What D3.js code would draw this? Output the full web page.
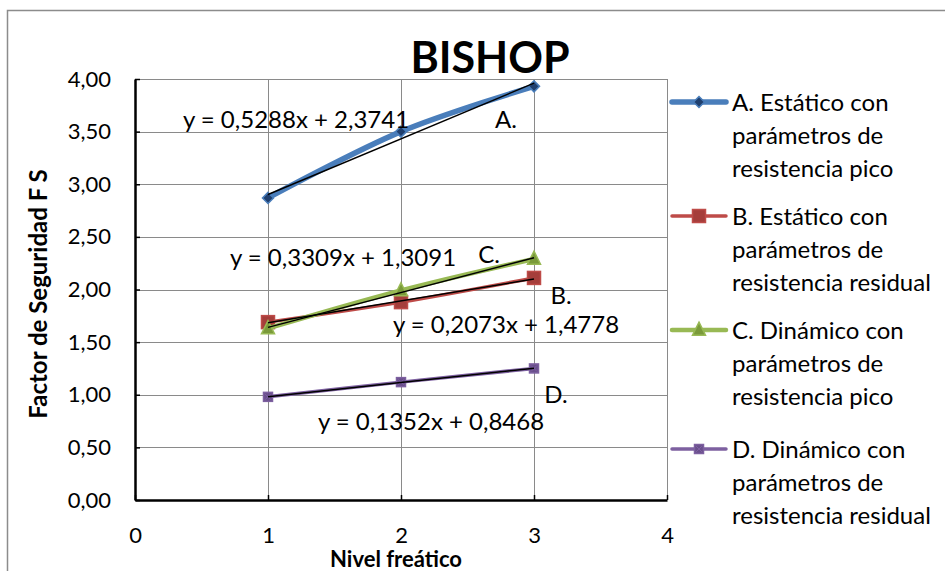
<!DOCTYPE html>
<html>
<head>
<meta charset="utf-8">
<script src="https://cdn.jsdelivr.net/npm/d3@7"></script>
<style>
  html, body { margin: 0; padding: 0; background: #fff; }
  svg { display: block; }
  text { font-family: Lato, "Open Sans", sans-serif; fill: #000; }
</style>
</head>
<body>
<svg id="chart" width="945" height="571"></svg>
<script>
// Water table levels (x) and factor of safety results per case
const nivel = [1, 2, 3];
const seriesNames = [
  ["A. Estático con", "parámetros de", "resistencia pico"],
  ["B. Estático con", "parámetros de", "resistencia residual"],
  ["C. Dinámico con", "parámetros de", "resistencia pico"],
  ["D. Dinámico con", "parámetros de", "resistencia residual"]
];
const fsA = [2.87, 3.50, 3.93];
const fsB = [1.69, 1.88, 2.11];
const fsC = [1.63, 1.99, 2.29];
const fsD = [0.98, 1.12, 1.25];
// Linear trend lines fitted to each series
const trendSlope = [0.5288, 0.2073, 0.3309, 0.1352];
const trendIntercept = [2.3741, 1.4778, 1.3091, 0.8468];
const trendTags = ["A.", "B.", "C.", "D."];
const xTicks = [0, 1, 2, 3, 4];
const yTicks = [0, 0.5, 1, 1.5, 2, 2.5, 3, 3.5, 4];

const svg = d3.select("#chart");
const W = 945, H = 571;
const plot = { left: 135, right: 667, top: 79, bottom: 500 };

const x = d3.scaleLinear().domain([0, 4]).range([plot.left, plot.right]);
const y = d3.scaleLinear().domain([0, 4]).range([plot.bottom, plot.top]);
const comma = v => d3.format(".2f")(v).replace(".", ",");
const eqNum = v => d3.format(".4f")(v).replace(".", ",");

// chart area frame
svg.append("path")
  .attr("d", `M7.5,${H} V10.5 H${W}`)
  .attr("fill", "none").attr("stroke", "#8c8c8c").attr("stroke-width", 1.5);

// gridlines
const grid = svg.append("g").attr("stroke", "#8a8a8a").attr("stroke-width", 1);
grid.selectAll("line.h").data(yTicks.filter(d => d > 0)).join("line")
  .attr("x1", plot.left).attr("x2", plot.right)
  .attr("y1", d => Math.round(y(d)) + 0.5).attr("y2", d => Math.round(y(d)) + 0.5);
grid.selectAll("line.v").data(xTicks.filter(d => d > 0)).join("line")
  .attr("y1", plot.top).attr("y2", plot.bottom)
  .attr("x1", d => Math.round(x(d)) + 0.5).attr("x2", d => Math.round(x(d)) + 0.5);

// axes
const yAxis = svg.append("g").attr("transform", `translate(${plot.left},0)`)
  .call(d3.axisLeft(y).tickValues(yTicks).tickFormat(comma).tickSizeInner(-5).tickSizeOuter(0).tickPadding(24));
const xAxis = svg.append("g").attr("transform", `translate(0,${plot.bottom})`)
  .call(d3.axisBottom(x).tickValues(xTicks).tickFormat(d3.format("d")).tickSizeInner(-5).tickSizeOuter(0).tickPadding(27));
[yAxis, xAxis].forEach(a => {
  a.select(".domain").attr("stroke", "#000").attr("stroke-width", 2.5);
  a.selectAll(".tick line").attr("stroke", "#000").attr("stroke-width", 1.5);
  a.selectAll(".tick text").style("font-size", "22px").attr("fill", "#000");
});

// axis titles and chart title
svg.append("text").attr("x", 396).attr("y", 567).attr("text-anchor", "middle")
  .style("font-size", "22px").style("font-weight", "bold").text("Nivel freático");
svg.append("text").attr("transform", "translate(47,294) rotate(-90)").attr("text-anchor", "middle")
  .style("font-size", "24px").style("font-weight", "bold").text("Factor de Seguridad F S");
svg.append("text").attr("x", 490).attr("y", 73).attr("text-anchor", "middle")
  .style("font-size", "43px").style("font-weight", "bold").text("BISHOP");

// series styles
const styles = [
  { line: "#4a7ebb", width: 5.5, marker: "diamond", fill: "#1f3f6e", size: 11 },
  { line: "#be4b48", width: 3.5, marker: "square", fill: "#a53e3b", size: 13 },
  { line: "#98b954", width: 4.5, marker: "triangle", fill: "#7a9a3a", size: 13 },
  { line: "#7d60a0", width: 3.5, marker: "squarex", fill: "#6a4f8c", size: 9 }
];
const allSeries = [fsA, fsB, fsC, fsD];

function drawMarker(g, type, cx, cy, s, fill, stroke) {
  if (type === "diamond") {
    g.append("path").attr("d", `M${cx},${cy - s / 2}L${cx + s / 2},${cy}L${cx},${cy + s / 2}L${cx - s / 2},${cy}Z`)
      .attr("fill", fill).attr("stroke", stroke).attr("stroke-width", 1.5);
  } else if (type === "square") {
    g.append("rect").attr("x", cx - s / 2).attr("y", cy - s / 2).attr("width", s).attr("height", s)
      .attr("fill", fill).attr("stroke", stroke).attr("stroke-width", 1.5);
  } else if (type === "triangle") {
    g.append("path").attr("d", `M${cx},${cy - s * 0.6}L${cx + s / 2},${cy + s * 0.4}L${cx - s / 2},${cy + s * 0.4}Z`)
      .attr("fill", fill).attr("stroke", stroke).attr("stroke-width", 1.5);
  } else {
    g.append("rect").attr("x", cx - s / 2).attr("y", cy - s / 2).attr("width", s).attr("height", s)
      .attr("fill", fill).attr("stroke", stroke).attr("stroke-width", 1.5);
    g.append("path").attr("d", `M${cx - s / 2 + 1.5},${cy - s / 2 + 1.5}L${cx + s / 2 - 1.5},${cy + s / 2 - 1.5}M${cx + s / 2 - 1.5},${cy - s / 2 + 1.5}L${cx - s / 2 + 1.5},${cy + s / 2 - 1.5}`)
      .attr("stroke", stroke).attr("stroke-width", 1);
  }
}

const lineGen = d3.line().x(d => x(d[0])).y(d => y(d[1])).curve(d3.curveCatmullRom.alpha(0.5));
const series = svg.append("g");
allSeries.forEach((vals, i) => {
  const st = styles[i];
  const pts = nivel.map((n, j) => [n, vals[j]]);
  const g = series.append("g");
  g.append("path").datum(pts).attr("d", lineGen)
    .attr("fill", "none").attr("stroke", st.line).attr("stroke-width", st.width).attr("stroke-linejoin", "round");
  pts.forEach(p => drawMarker(g, st.marker, x(p[0]), y(p[1]), st.size, st.fill, st.line));
});

// trend lines
const trends = svg.append("g");
trendSlope.forEach((m, i) => {
  const b = trendIntercept[i];
  trends.append("line")
    .attr("x1", x(nivel[0])).attr("y1", y(m * nivel[0] + b))
    .attr("x2", x(nivel[nivel.length - 1])).attr("y2", y(m * nivel[nivel.length - 1] + b))
    .attr("stroke", "#000").attr("stroke-width", 1.5);
});

// trend equations and series tags
const eqPos = [[296, 128], [506, 333], [343, 266], [431, 430]];
const tagPos = [[506, 128], [561, 304], [489, 263], [556, 403]];
trendSlope.forEach((m, i) => {
  svg.append("text").attr("x", eqPos[i][0]).attr("y", eqPos[i][1]).attr("text-anchor", "middle")
    .style("font-size", "24px")
    .text(`y = ${eqNum(m)}x + ${eqNum(trendIntercept[i])}`);
  svg.append("text").attr("x", tagPos[i][0]).attr("y", tagPos[i][1]).attr("text-anchor", "middle")
    .style("font-size", "24px").text(trendTags[i]);
});

// legend
const legend = svg.append("g");
const legendTop = [102, 216, 330, 449];
seriesNames.forEach((lines, i) => {
  const st = styles[i];
  const cy = legendTop[i];
  legend.append("line").attr("x1", 672).attr("x2", 726).attr("y1", cy).attr("y2", cy)
    .attr("stroke", st.line).attr("stroke-width", st.width).attr("stroke-linecap", "round");
  drawMarker(legend, st.marker, 699, cy, st.size, st.fill, st.line);
  lines.forEach((t, k) => {
    legend.append("text").attr("x", 732).attr("y", cy + 9 + k * 33)
      .style("font-size", "24px").text(t);
  });
});
</script>
</body>
</html>
